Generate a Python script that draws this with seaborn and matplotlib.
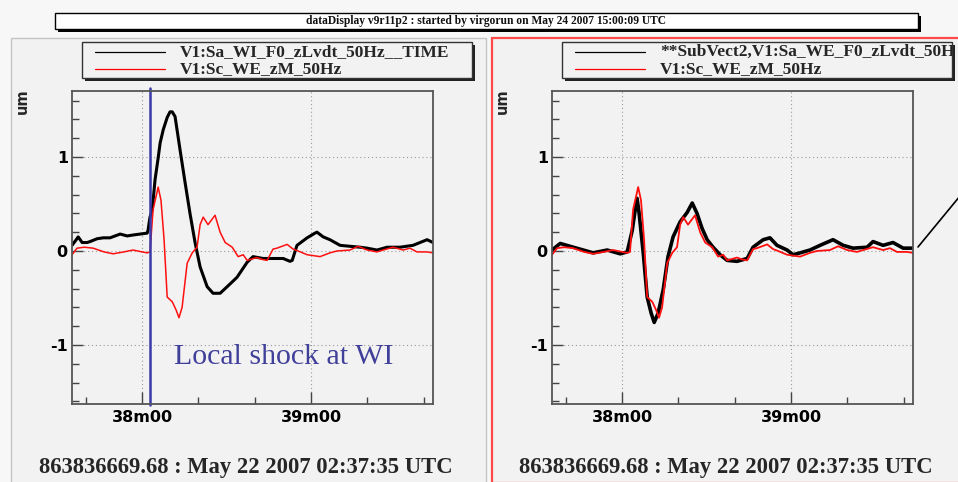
import matplotlib
matplotlib.use("Agg")
import matplotlib.pyplot as plt
import pandas as pd
import seaborn as sns
from matplotlib.patches import Rectangle
from matplotlib.lines import Line2D
from matplotlib.transforms import TransformedBbox, Bbox
from matplotlib.ticker import FixedLocator, FixedFormatter

# ---- data: time in seconds relative to 02:38:00 UTC, displacement in um ----
zm_t = [-24.9, -23.1, -20.5, -17.4, -13.5, -10.3, -6.5, -3.2, 0.0, 1.8, 2.8,
        3.9, 5.7, 6.7, 7.8, 8.9, 10.7, 12.1, 13.1, 14.2, 16.0, 17.8, 19.5,
        20.6, 21.7, 23.4, 25.9, 27.7, 29.5, 32.0, 34.1, 35.9, 37.3, 40.8,
        42.6, 44.4, 46.5, 47.9, 51.5, 53.6, 55.4, 58.6, 63.2, 66.7, 69.2,
        73.8, 76.7, 79.9, 83.4, 85.6, 89.1, 92.7, 95.1, 97.6, 101.2, 103.3]
zm_um = [-0.04, 0.03, 0.04, 0.03, -0.01, -0.03, -0.01, 0.01, -0.01, -0.02, -0.01,
         0.44, 0.68, 0.54, 0.12, -0.49, -0.54, -0.63, -0.71, -0.60, -0.13, -0.02, 0.04,
         0.28, 0.36, 0.28, 0.38, 0.20, 0.09, 0.04, -0.06, -0.04, -0.10, -0.07,
         -0.09, -0.10, 0.02, 0.03, 0.07, 0.02, 0.00, -0.04, -0.06, -0.02, 0.00,
         0.01, 0.05, 0.01, -0.01, 0.01, 0.04, 0.01, 0.03, -0.01, -0.01, -0.02]

wi_t = [-24.9, -23.4, -22.7, -21.3, -19.5, -18.5, -16.0, -13.8, -11.4, -7.8,
        -5.3, -3.2, -0.7, 1.8, 2.1, 2.8, 3.6, 4.6, 5.7, 6.4, 7.5, 8.9, 9.9,
        10.7, 11.7, 13.5, 15.3, 17.0, 18.8, 20.6, 23.1, 25.2, 27.7, 30.2,
        33.7, 37.3, 39.4, 43.0, 46.5, 50.1, 52.5, 53.3, 55.0, 58.6, 61.4,
        62.1, 64.3, 66.7, 70.3, 73.8, 77.4, 79.9, 83.4, 87.0, 91.6, 96.2,
        101.2, 103.3]
wi_um = [0.06, 0.12, 0.15, 0.09, 0.09, 0.10, 0.13, 0.14, 0.14, 0.18,
         0.16, 0.17, 0.18, 0.19, 0.22, 0.36, 0.44, 0.76, 0.99, 1.15, 1.29, 1.42, 1.48,
         1.48, 1.43, 1.07, 0.72, 0.40, 0.09, -0.17, -0.38, -0.45, -0.45, -0.38,
         -0.28, -0.12, -0.06, -0.08, -0.08, -0.08, -0.11, -0.10, 0.06, 0.14, 0.19,
         0.20, 0.15, 0.12, 0.06, 0.05, 0.04, 0.03, 0.01, 0.04, 0.04, 0.06,
         0.12, 0.09]

we_t = [-24.9, -22.0, -18.5, -13.8, -10.3, -5.3, -0.7, 1.8, 3.6, 5.0, 5.3,
        6.0, 7.5, 8.9, 10.3, 11.4, 12.8, 14.6, 16.3, 18.1, 20.6, 23.1, 24.9,
        26.6, 28.4, 30.2, 32.3, 34.8, 37.3, 40.8, 44.4, 46.5, 50.1, 52.5,
        55.0, 58.6, 60.7, 63.2, 66.7, 70.3, 74.9, 78.5, 82.0, 87.0, 89.1,
        92.7, 96.2, 99.8, 103.3]
we_um = [0.01, 0.08, 0.05, 0.01, -0.02, 0.01, -0.03, -0.01, 0.22, 0.51, 0.56,
         0.41, -0.02, -0.49, -0.66, -0.76, -0.66, -0.41, -0.06, 0.15, 0.31, 0.41, 0.51,
         0.40, 0.24, 0.12, 0.04, -0.04, -0.10, -0.11, -0.08, 0.04, 0.12, 0.14,
         0.06, 0.01, -0.04, -0.02, 0.01, 0.06, 0.12, 0.06, 0.03, 0.04, 0.10,
         0.06, 0.09, 0.03, 0.03]

x_major = [0, 60]
x_labels = ["38m00", "39m00"]
x_minor = [-20, 20, 40, 80, 100]
y_major = [-1, 0, 1]
y_labels = ["-1", "0", "1"]
y_minor = [-1.6, -1.4, -1.2, -0.8, -0.6, -0.4, -0.2, 0.2, 0.4, 0.6, 0.8, 1.2, 1.4, 1.6]
shock_t = 2.8

name_wi = "V1:Sa_WI_F0_zLvdt_50Hz__TIME"
name_we = "**SubVect2,V1:Sa_WE_F0_zLvdt_50Hz__TIME"
name_zm = "V1:Sc_WE_zM_50Hz"
title = "dataDisplay v9r11p2 : started by virgorun on May 24 2007 15:00:09 UTC"
stamp = "863836669.68 : May 22 2007 02:37:35 UTC"

sns.set_theme(style="ticks")
plt.rcParams["font.family"] = ["DejaVu Sans"]

W, H = 958, 482
PANEL = "#f2f2f2"
fig = plt.figure(figsize=(W / 100, H / 100), dpi=100, facecolor="#f7f7f7")


def fx(px):
    return px / W


def fy(py):
    return 1 - py / H


def box(x0, y0, x1, y1, z=5, **kw):
    r = Rectangle((fx(x0), fy(y1)), (x1 - x0) / W, (y1 - y0) / H,
                  transform=fig.transFigure, zorder=z, **kw)
    fig.add_artist(r)
    return r


# canvas panels (behind the axes)
box(11, 38, 486, 483, z=-10, facecolor=PANEL, edgecolor="#c4c4c4", lw=1.0)
box(492, 38, 960, 483, z=-10, facecolor=PANEL, edgecolor="#ff4a4a", lw=1.6)

# title bar
box(58, 16, 921, 32, facecolor="black", edgecolor="none")
box(55, 13, 918, 29, facecolor="white", edgecolor="black", lw=1.0)
fig.text(fx(486), fy(21), title, ha="center", va="center", zorder=6,
         family="Liberation Serif", weight="bold", fontsize=8.3, color="#111111")


def legend(x0, first_name):
    y0, y1 = 42, 78
    x1 = x0 + 390
    box(x0 + 3, y0 + 3, x1 + 3, y1 + 3, facecolor="#222222", edgecolor="none")
    box(x0, y0, x1, y1, facecolor=PANEL, edgecolor="#333333", lw=1.0)
    clip = TransformedBbox(Bbox([[fx(x0), fy(y1)], [fx(x1), fy(y0)]]), fig.transFigure)
    for yy, col, name in [(52, "black", first_name), (69, "red", name_zm)]:
        fig.add_artist(Line2D([fx(x0 + 13), fx(x0 + 83)], [fy(yy), fy(yy)],
                              transform=fig.transFigure, color=col, lw=0.9, zorder=6))
        t = fig.text(fx(x0 + 98), fy(yy), name, ha="left", va="center", zorder=6,
                     family="Liberation Serif", weight="bold", fontsize=12.5)
        t.set_clip_box(clip)
        t.set_clip_on(True)


def style_axes(ax):
    ax.set_facecolor(PANEL)
    ax.set_xlim(-24.9, 103.3)
    ax.set_ylim(-1.628, 1.702)
    ax.xaxis.set_major_locator(FixedLocator(x_major))
    ax.xaxis.set_major_formatter(FixedFormatter(x_labels))
    ax.xaxis.set_minor_locator(FixedLocator(x_minor))
    ax.yaxis.set_major_locator(FixedLocator(y_major))
    ax.yaxis.set_major_formatter(FixedFormatter(y_labels))
    ax.yaxis.set_minor_locator(FixedLocator(y_minor))
    ax.tick_params(which="both", direction="in", color="#444444", top=False, right=False)
    ax.tick_params(axis="y", which="major", length=8, width=1.0, pad=3)
    ax.tick_params(axis="y", which="minor", length=5, width=1.0)
    ax.tick_params(axis="x", which="major", length=9, width=1.0, pad=4)
    ax.tick_params(axis="x", which="minor", length=5, width=1.0)
    for lab in ax.get_xticklabels() + ax.get_yticklabels():
        lab.set_fontfamily("DejaVu Sans")
        lab.set_fontweight("bold")
        lab.set_fontsize(11.5)
        lab.set_color("black")
    ax.grid(True, which="major", color="#9a9a9a", lw=0.8, linestyle=(0, (1, 2.5)))
    for s in ax.spines.values():
        s.set_color("#555555")
        s.set_linewidth(1.3)
    ax.set_xlabel("")
    ax.set_ylabel("")
    if ax.get_legend() is not None:
        ax.get_legend().remove()


zm = pd.DataFrame({"t": zm_t, "um": zm_um})
wi = pd.DataFrame({"t": wi_t, "um": wi_um})
we = pd.DataFrame({"t": we_t, "um": we_um})

ax_l = fig.add_axes([fx(72), fy(404), 361 / W, 313 / H])
sns.lineplot(data=wi, x="t", y="um", ax=ax_l, color="black", lw=2.2,
             sort=False, estimator=None)
sns.lineplot(data=zm, x="t", y="um", ax=ax_l, color="#ff0f0f", lw=1.1,
             sort=False, estimator=None)
style_axes(ax_l)
ax_l.axvline(shock_t, ymin=-0.004, ymax=1.011, clip_on=False, color="#3a3aa8", lw=1.8)
ax_l.text(0.585, 0.15, "Local shock at WI", transform=ax_l.transAxes, ha="center",
          va="center", family="Liberation Serif", fontsize=21.5, color="#40409a")

ax_r = fig.add_axes([fx(552), fy(404), 361 / W, 313 / H])
sns.lineplot(data=we, x="t", y="um", ax=ax_r, color="black", lw=2.6,
             sort=False, estimator=None)
sns.lineplot(data=zm, x="t", y="um", ax=ax_r, color="#ff0f0f", lw=1.3,
             sort=False, estimator=None)
style_axes(ax_r)

legend(82, name_wi)
legend(562, name_we)

for cx in (22, 502):
    fig.text(fx(cx), fy(101), "um", rotation=90, ha="center", va="center",
             family="DejaVu Sans", weight="bold", fontsize=10.5)

for cx in (246, 726):
    fig.text(fx(cx), fy(467), stamp, ha="center", va="center",
             family="Liberation Serif", weight="bold", fontsize=16.3)

# pointer line leaving the right panel
fig.add_artist(Line2D([fx(918), fx(960)], [fy(247), fy(196)],
                      transform=fig.transFigure, color="black", lw=1.2))

fig.savefig("out.png", dpi=100, facecolor=fig.get_facecolor())
